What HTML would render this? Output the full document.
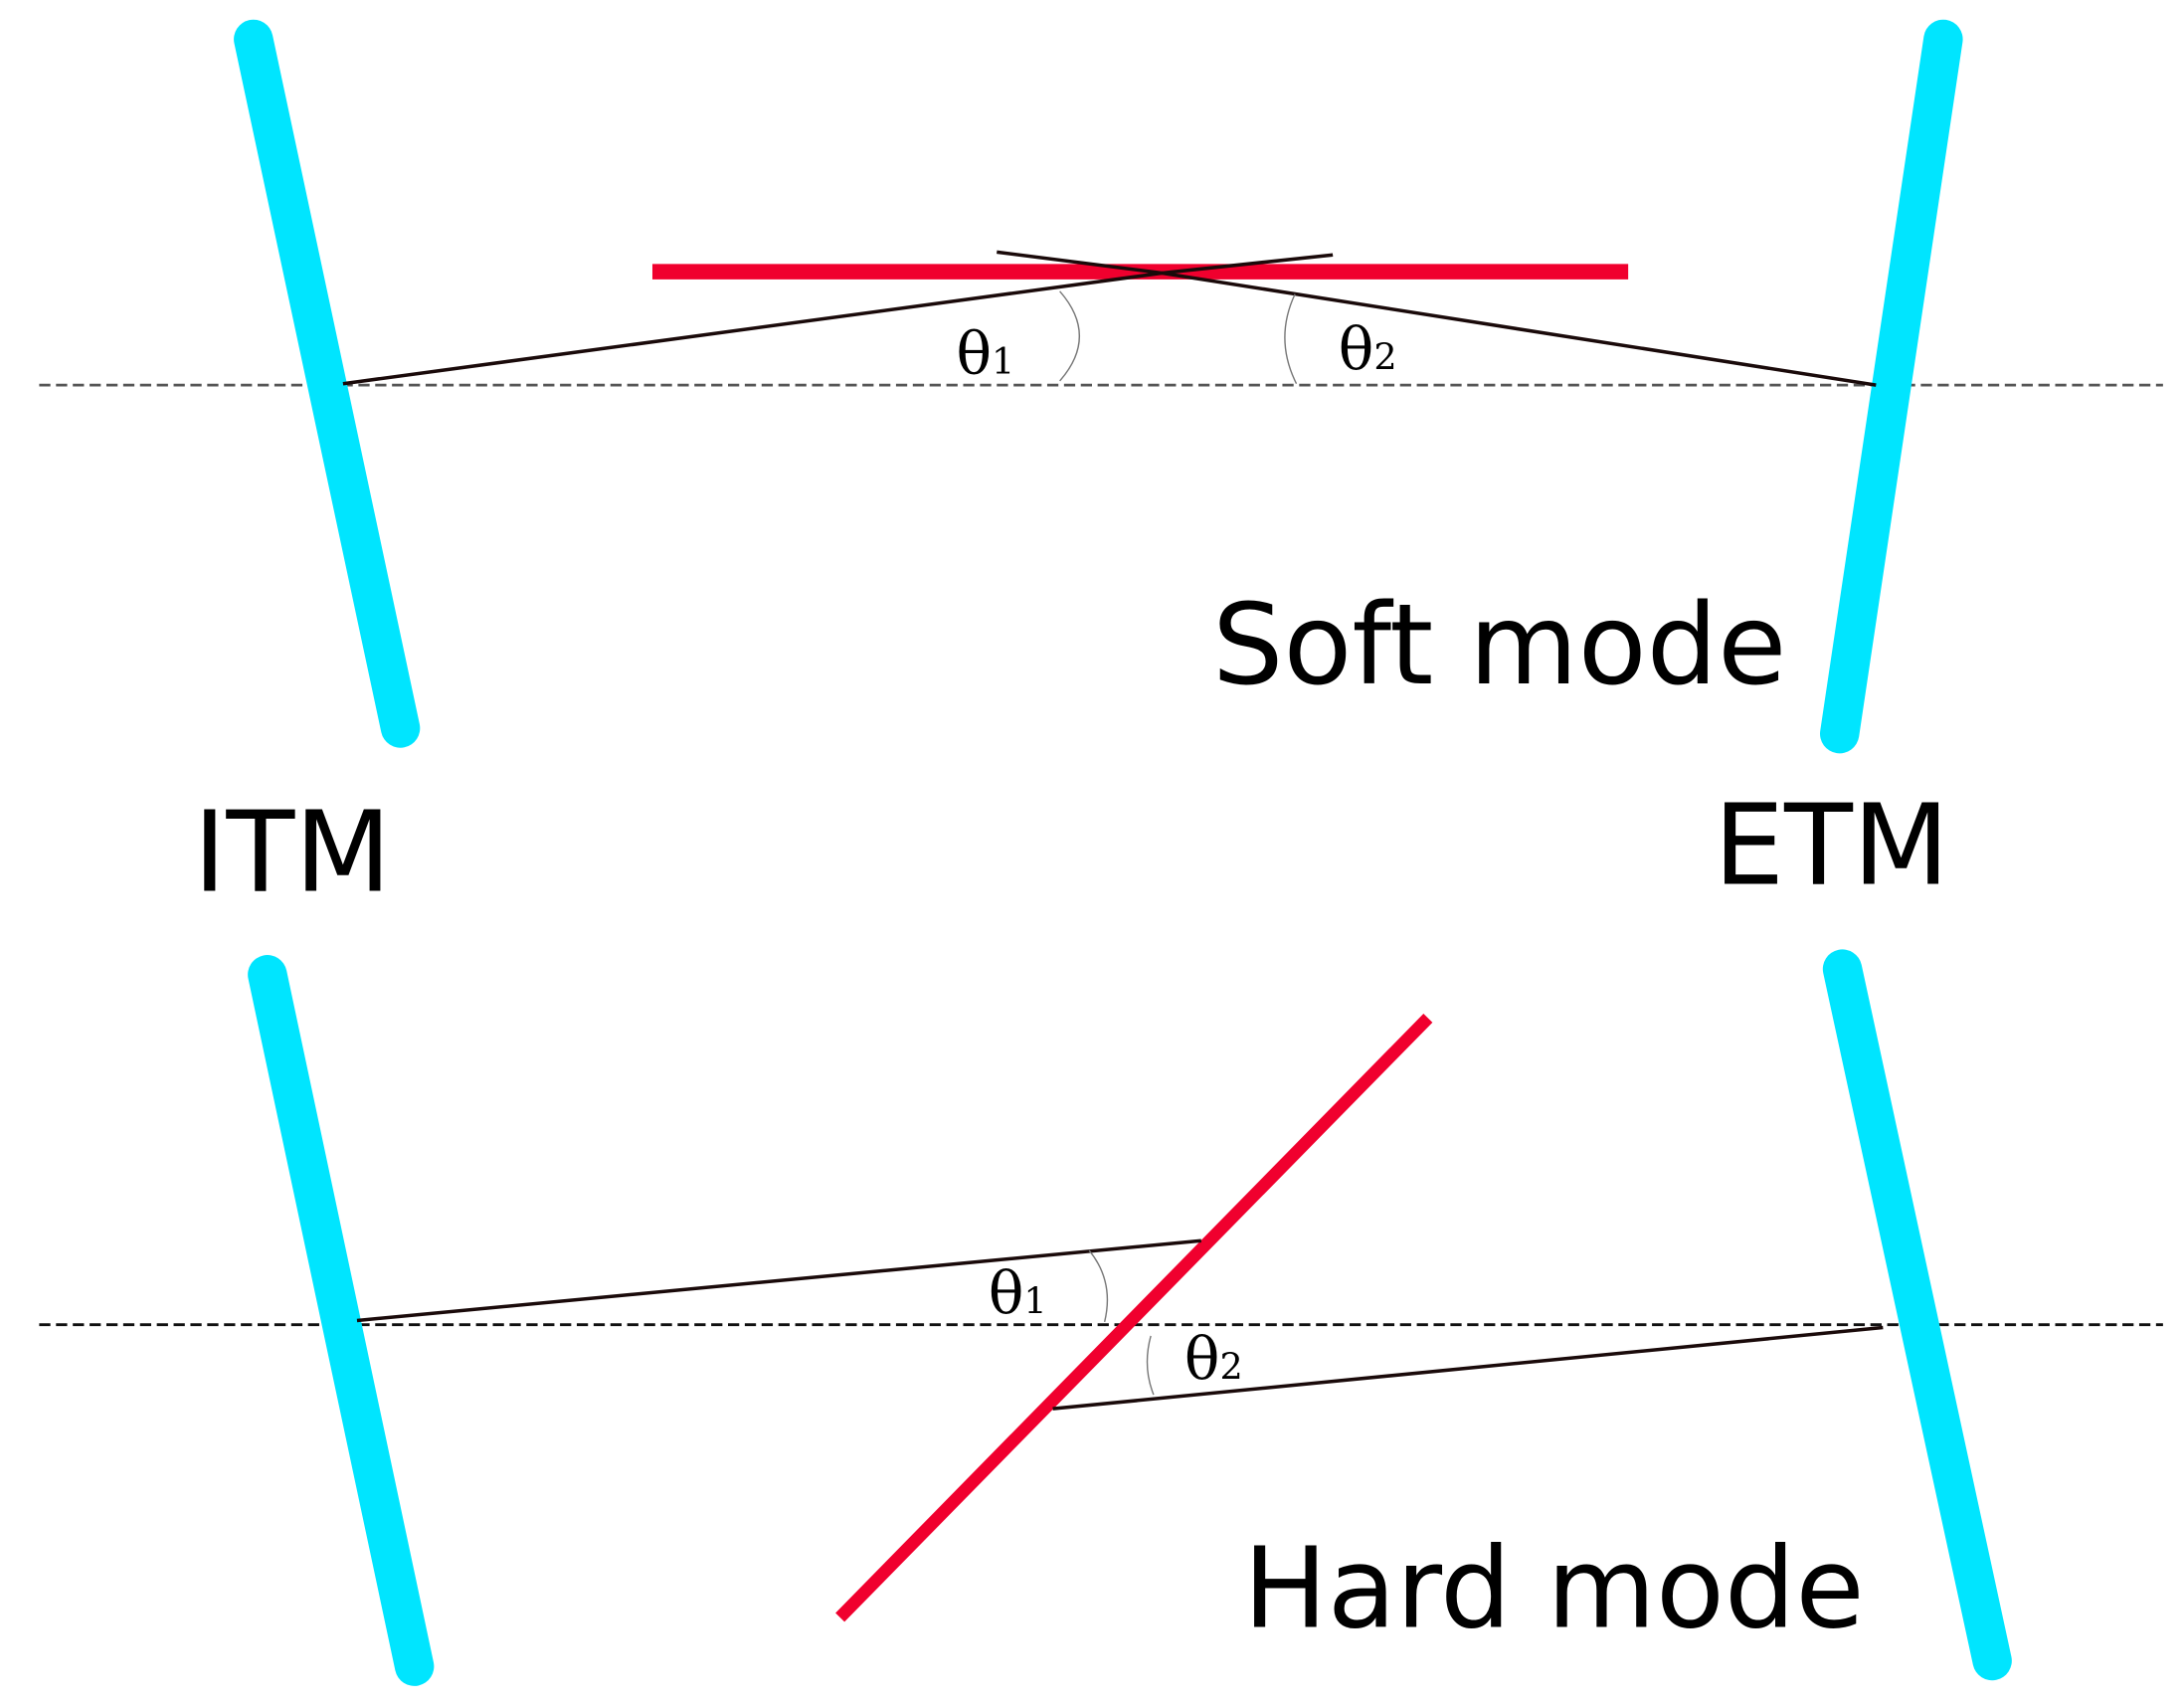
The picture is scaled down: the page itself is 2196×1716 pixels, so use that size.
<!DOCTYPE html>
<html><head><style>html,body{margin:0;padding:0;background:#fff}svg{display:block}</style></head>
<body>
<svg width="2196" height="1716" viewBox="0 0 1560 1219" xmlns="http://www.w3.org/2000/svg">
<rect width="1560" height="1219" fill="#fff"/>
<!-- top -->
<line x1="28" y1="275" x2="1545" y2="275" stroke="#555" stroke-width="2" stroke-dasharray="8,4"/>
<line x1="181" y1="28" x2="286" y2="520" stroke="#00e5ff" stroke-width="28" stroke-linecap="round"/>
<line x1="1388" y1="28" x2="1314" y2="524" stroke="#00e5ff" stroke-width="28" stroke-linecap="round"/>
<line x1="466" y1="194" x2="1163" y2="194" stroke="#f0002e" stroke-width="11"/>
<polyline points="245,274 830,195 1340,275" fill="none" stroke="#1a0a0a" stroke-width="2.5"/>
<line x1="830" y1="195" x2="952" y2="182" stroke="#1a0a0a" stroke-width="2.5"/>
<line x1="712" y1="180" x2="830" y2="195" stroke="#1a0a0a" stroke-width="2.5"/>
<path d="M757,208 Q785,240 757,272" fill="none" stroke="#777" stroke-width="1"/>
<path d="M925,210 Q910,242 926,274" fill="none" stroke="#777" stroke-width="1"/>
<text x="683" y="267" font-family="DejaVu Serif, serif" font-size="42">θ<tspan font-size="26">1</tspan></text>
<text x="956" y="264" font-family="DejaVu Serif, serif" font-size="42">θ<tspan font-size="26">2</tspan></text>
<text x="866" y="488" font-family="DejaVu Sans, sans-serif" font-size="80">Soft mode</text>
<text x="138" y="636" font-family="DejaVu Sans, sans-serif" font-size="80">ITM</text>
<text x="1224" y="631" font-family="DejaVu Sans, sans-serif" font-size="80">ETM</text>
<!-- bottom -->
<line x1="28" y1="946" x2="1545" y2="946" stroke="#111" stroke-width="2" stroke-dasharray="8,4"/>
<line x1="191" y1="696" x2="296" y2="1190" stroke="#00e5ff" stroke-width="28" stroke-linecap="round"/>
<line x1="1316" y1="692" x2="1423" y2="1186" stroke="#00e5ff" stroke-width="28" stroke-linecap="round"/>
<line x1="600" y1="1155" x2="1020" y2="727" stroke="#f0002e" stroke-width="9"/>
<line x1="255" y1="943" x2="858" y2="886" stroke="#1a0a0a" stroke-width="2.5"/>
<line x1="752" y1="1006" x2="1345" y2="948" stroke="#1a0a0a" stroke-width="2.5"/>
<path d="M778,893 Q796,915 789,944" fill="none" stroke="#777" stroke-width="1"/>
<path d="M822,954 Q816,976 824,996" fill="none" stroke="#777" stroke-width="1"/>
<text x="706" y="938" font-family="DejaVu Serif, serif" font-size="42">θ<tspan font-size="26">1</tspan></text>
<text x="846" y="985" font-family="DejaVu Serif, serif" font-size="42">θ<tspan font-size="26">2</tspan></text>
<text x="888" y="1162" font-family="DejaVu Sans, sans-serif" font-size="80">Hard mode</text>
</svg>
</body></html>
